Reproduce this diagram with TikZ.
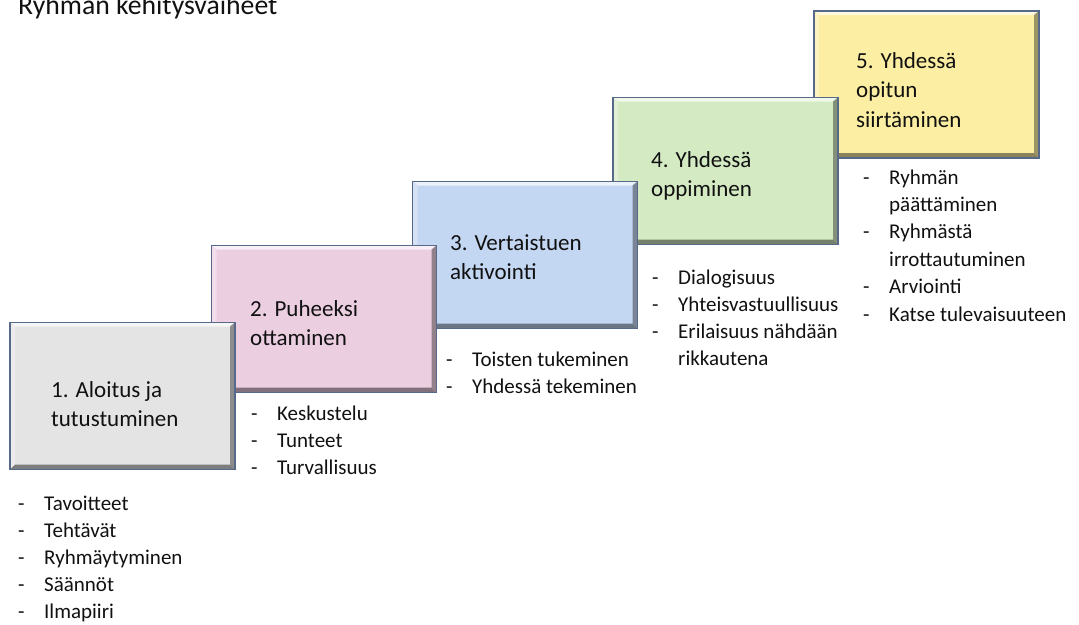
\documentclass[tikz,border=0pt]{standalone}
\usepackage{fontspec}
\setmainfont{Carlito}
\definecolor{boxgray}{HTML}{E4E4E4}
\definecolor{boxpink}{HTML}{ECCEE1}
\definecolor{boxblue}{HTML}{C3D6F2}
\definecolor{boxgreen}{HTML}{D4EAC3}
\definecolor{boxyellow}{HTML}{FCEEA2}
\definecolor{edge}{HTML}{56698A}
\definecolor{txt}{HTML}{111111}
\tikzset{
  stepbox/.style={rectangle, draw=edge, line width=1.4pt, fill=#1,
    minimum width=225pt, minimum height=147pt, inner sep=0pt,
    path picture={
      \path (path picture bounding box.north west) coordinate (pnw)
            (path picture bounding box.north east) coordinate (pne)
            (path picture bounding box.south west) coordinate (psw)
            (path picture bounding box.south east) coordinate (pse);
      \fill[#1!35!white] (pnw) -- (pne) -- ([shift={(-5pt,-4pt)}]pne) -- ([shift={(5pt,-4pt)}]pnw) -- cycle;
      \fill[#1!70!white] (pnw) -- ([shift={(5pt,-4pt)}]pnw) -- ([shift={(5pt,5pt)}]psw) -- (psw) -- cycle;
      \fill[#1!62!black] (pne) -- ([shift={(-5pt,-4pt)}]pne) -- ([shift={(-5pt,5pt)}]pse) -- (pse) -- cycle;
      \fill[#1!55!black] (psw) -- ([shift={(5pt,5pt)}]psw) -- ([shift={(-5pt,5pt)}]pse) -- (pse) -- cycle;
    }},
  lbl/.style={anchor=base west, inner sep=0pt, font=\fontsize{23}{28}\selectfont, text=txt},
  itm/.style={anchor=base west, inner sep=0pt, font=\fontsize{21}{26}\selectfont, text=txt},
  ttl/.style={anchor=base west, inner sep=0pt, font=\fontsize{27.7}{33}\selectfont, text=txt},
}
\newcommand\dsh[1]{\makebox[26pt][l]{-}#1}
\newcommand\cont[1]{\hspace*{26pt}#1}
\newcommand\linesat[6]{%
  \foreach \t [count=\i] in {#6} \node[#1] (#2\i) at (#3, {#4+(\i-1)*#5}) {\t};
}
\begin{document}
\begin{tikzpicture}[x=1pt,y=-1pt]
\useasboundingbox[fill=white] (0,0) rectangle (1079,624);

\node[ttl] (title) at (18,14) {Ryhmän kehitysvaiheet};

\node[stepbox=boxyellow] (b5) at (926.5,84.5) {};
\node[stepbox=boxgreen]  (b4) at (725.5,171) {};
\node[stepbox=boxblue]   (b3) at (525,255) {};
\node[stepbox=boxpink]   (b2) at (324,319) {};
\node[stepbox=boxgray]   (b1) at (122.5,396) {};

\linesat{lbl}{t1-}{51}{397}{29}{1. Aloitus ja, tutustuminen}
\linesat{lbl}{t2-}{250}{316}{29}{2. Puheeksi, ottaminen}
\linesat{lbl}{t3-}{450}{250}{29.5}{3. Vertaistuen, aktivointi}
\linesat{lbl}{t4-}{651}{167}{29}{4. Yhdessä, oppiminen}
\linesat{lbl}{t5-}{856}{68}{29.5}{5. Yhdessä, opitun, siirtäminen}

\linesat{itm}{l1-}{18}{510}{27}{\dsh{Tavoitteet}, \dsh{Tehtävät}, \dsh{Ryhmäytyminen}, \dsh{Säännöt}, \dsh{Ilmapiiri}}
\linesat{itm}{l2-}{251}{420}{27}{\dsh{Keskustelu}, \dsh{Tunteet}, \dsh{Turvallisuus}}
\linesat{itm}{l3-}{446}{366}{27}{\dsh{Toisten tukeminen}, \dsh{Yhdessä tekeminen}}
\linesat{itm}{l4-}{652}{284}{27}{\dsh{Dialogisuus}, \dsh{Yhteisvastuullisuus}, \dsh{Erilaisuus nähdään}, \cont{rikkautena}}
\linesat{itm}{l5-}{863}{184}{27.4}{\dsh{Ryhmän}, \cont{päättäminen}, \dsh{Ryhmästä}, \cont{irrottautuminen}, \dsh{Arviointi}, \dsh{Katse tulevaisuuteen}}
\end{tikzpicture}
\end{document}
